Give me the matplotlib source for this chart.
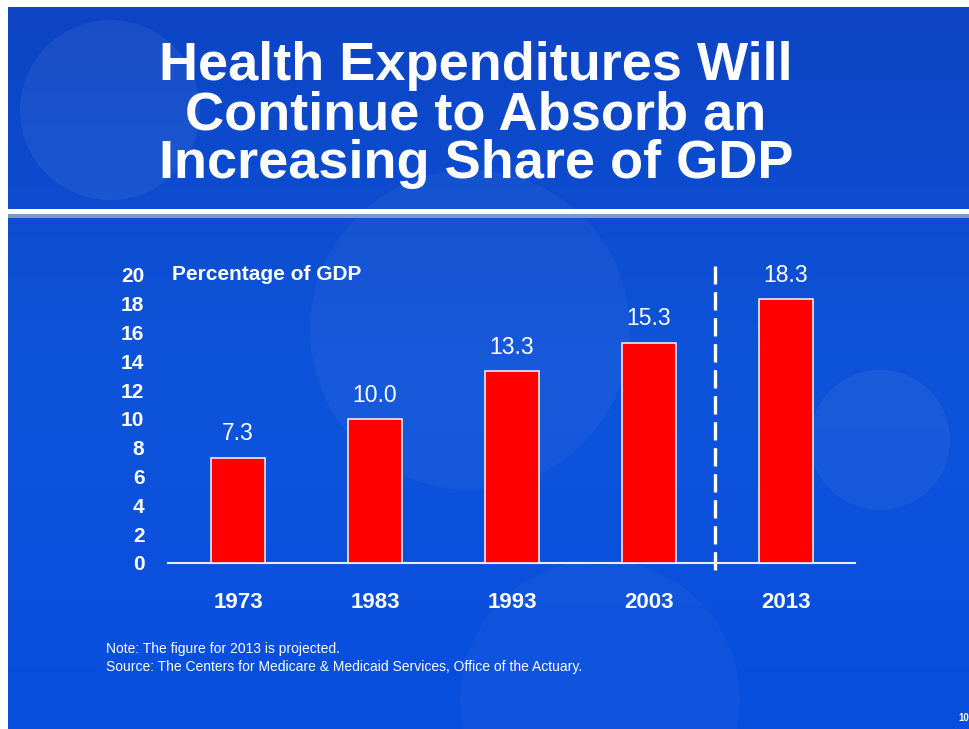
import numpy as np
import matplotlib
matplotlib.use("Agg")
import matplotlib.pyplot as plt
from matplotlib.patches import Rectangle

plt.rcParams['font.family'] = ['Liberation Sans', 'DejaVu Sans']

# ---- data ----
years = ["1973", "1983", "1993", "2003", "2013"]
values = [7.3, 10.0, 13.3, 15.3, 18.3]
value_labels = ["7.3", "10.0", "13.3", "15.3", "18.3"]
yticks = [0, 2, 4, 6, 8, 10, 12, 14, 16, 18, 20]
title = "Health Expenditures Will\nContinue to Absorb an\nIncreasing Share of GDP"
axis_title = "Percentage of GDP"
note_lines = ["Note: The figure for 2013 is projected.",
              "Source: The Centers for Medicare & Medicaid Services, Office of the Actuary."]

W, H = 970, 729
fig = plt.figure(figsize=(W / 100, H / 100), dpi=100)
fig.patch.set_facecolor("white")

# background
bg = fig.add_axes([0, 0, 1, 1])
bg.set_xlim(0, W)
bg.set_ylim(H, 0)
bg.axis("off")
ny = 200
top = np.array([12, 68, 196]) / 255
mid = np.array([14, 84, 218]) / 255
bot = np.array([8, 78, 222]) / 255
t = np.linspace(0, 1, ny)[:, None]
grad = np.where(t < 0.5, top + (mid - top) * (t / 0.5), mid + (bot - mid) * ((t - 0.5) / 0.5))
img = np.repeat(grad[:, None, :], 2, axis=1)
bg.imshow(img, extent=[8, W, H, 7], aspect="auto", zorder=0)
# subtle lighter blobs
for (cx, cy, r, a) in [(110, 110, 90, 0.06), (470, 330, 160, 0.04), (880, 440, 70, 0.05), (600, 700, 140, 0.03)]:
    bg.add_patch(plt.Circle((cx, cy), r, color="white", alpha=a, lw=0, zorder=1))
# separator line
bg.add_patch(Rectangle((8, 214), W, 4, color="#7f98c8", lw=0, zorder=2))
bg.add_patch(Rectangle((8, 209), W, 5, color="white", lw=0, zorder=3))

# title
fig.text(476 / W, 1 - 115 / H, title, ha="center", va="center", color="white",
         fontsize=39, fontweight="bold", linespacing=0.98)

# chart axes
ax = fig.add_axes([168 / W, 1 - 563 / H, 687 / W, 288 / H])
ax.patch.set_alpha(0)
x = np.arange(len(years))
ax.bar(x, values, width=0.40, color="#ff0000", edgecolor="#f0e8f0", linewidth=1.2, zorder=3)
ax.set_xlim(-0.511, 4.504)
ax.set_ylim(0, 20)
for s in ["top", "right", "left"]:
    ax.spines[s].set_visible(False)
ax.spines["bottom"].set_color("#e8eef8")
ax.spines["bottom"].set_linewidth(1.5)
ax.set_yticks(yticks)
ax.set_yticklabels([str(v) for v in yticks], color="white", fontsize=15, fontweight="bold")
ax.tick_params(axis="y", length=0, pad=17)
ax.set_xticks(x)
ax.set_xticklabels(years, color="white", fontsize=16, fontweight="bold")
ax.tick_params(axis="x", length=0, pad=21)
for xi, v, lab in zip(x, values, value_labels):
    ax.annotate(lab, (xi, v), xytext=(0, 9), textcoords="offset points",
                ha="center", va="bottom", color="white", fontsize=16.5)
ax.text(-0.48, 20, axis_title, ha="left", va="center", color="white",
        fontsize=15, fontweight="bold")
ax.plot([3.48, 3.48], [-0.5, 20.6], color="white", lw=2.4, ls=(0, (5.5, 2.3)),
        clip_on=False, zorder=2)

# notes
fig.text(106 / W, 1 - 649 / H, note_lines[0], ha="left", va="center", color="white", fontsize=10)
fig.text(106 / W, 1 - 667 / H, note_lines[1], ha="left", va="center", color="white", fontsize=10)
fig.text(958 / W, 1 - 718 / H, "10", ha="left", va="center", color="white", fontsize=7, fontweight="bold")

fig.savefig("out.png", dpi=100, facecolor=fig.get_facecolor())
